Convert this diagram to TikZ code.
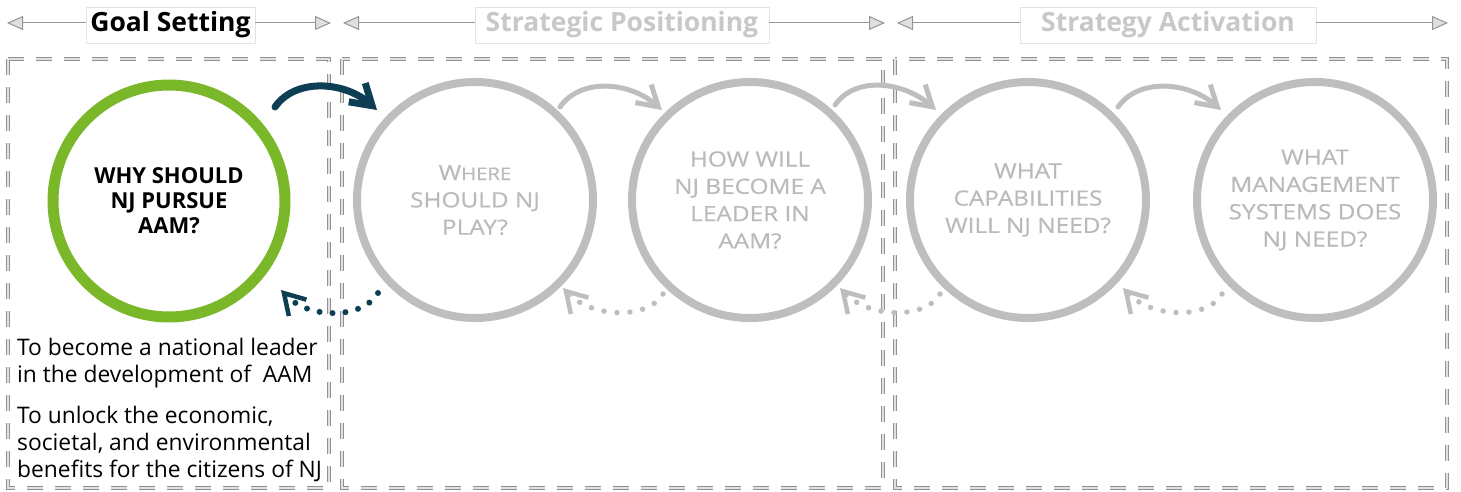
\documentclass[tikz,border=0pt]{standalone}
\usepackage{fontspec}
\setmainfont{Open Sans}
\newfontfamily\qfont[FakeStretch=1.16,FakeBold=0.6]{Open Sans}
\usetikzlibrary{arrows.meta,calc}
\definecolor{ngreen}{RGB}{122,184,42}
\definecolor{nteal}{RGB}{14,62,84}
\definecolor{ringc}{RGB}{190,190,190}
\definecolor{qtext}{RGB}{186,186,186}
\definecolor{htext}{RGB}{200,200,200}
\definecolor{dashc}{RGB}{145,145,145}
\definecolor{dashin}{RGB}{225,225,225}
\definecolor{hdrline}{RGB}{150,150,150}
\begin{document}
\begin{tikzpicture}[x=1pt,y=-1pt,
  stagebox/.style={draw=dashc, double=dashin, double distance=1.6pt, line width=0.9pt, dash pattern=on 16pt off 12pt},
  hdr/.style={draw=gray!22, fill=white, line width=0.6pt, minimum height=36pt, inner xsep=4pt, font=\fontsize{26.5}{30}\selectfont\bfseries},
  hdrarrow/.style={draw=hdrline, line width=1pt, -{Triangle[length=16pt,width=14pt,fill=gray!25]}},
  goalc/.style={circle, draw=ngreen, line width=11pt, minimum size=232pt, inner sep=0pt, align=center, font=\fontsize{22}{25}\selectfont\bfseries},
  qc/.style={circle, draw=ringc, line width=8pt, minimum size=236pt, inner sep=0pt, align=center, text=qtext, font=\qfont\fontsize{21}{27.3}\selectfont},
  fwd/.style={line width=5pt, draw=ringc, line cap=round, -{Straight Barb[length=20pt,width=24pt]}},
  fwddark/.style={line width=7pt, draw=nteal, line cap=round, -{Straight Barb[length=20pt,width=25pt]}},
  back/.style={line width=5.5pt, draw=ringc, line cap=round, dash pattern=on 0pt off 13pt, -{Straight Barb[length=20pt,width=24pt,line width=4.5pt]}},
  backdark/.style={line width=6pt, draw=nteal, line cap=round, dash pattern=on 0pt off 13pt, -{Straight Barb[length=20pt,width=24pt,line width=4.5pt]}},
  body/.style={anchor=base west, align=left, inner sep=0pt, font=\fontsize{22.8}{27}\selectfont}
]
\useasboundingbox (0,0) rectangle (1461,492);

% stage boxes
\draw[stagebox] (8,59) rectangle (329,488);
\draw[stagebox] (342,59) rectangle (883,488);
\draw[stagebox] (895,59) rectangle (1447,488);

% headers
\node[hdr, minimum width=169pt] (h1) at (170.5,25) {Goal Setting};
\node[hdr, minimum width=294pt, text=htext] (h2) at (622,25) {Strategic Positioning};
\node[hdr, minimum width=296pt, text=htext] (h3) at (1168,25) {Strategy Activation};
\coordinate (h1l) at (7,23); \coordinate (h1r) at (331,23);
\coordinate (h2l) at (343,23); \coordinate (h2r) at (885,23);
\coordinate (h3l) at (897,23); \coordinate (h3r) at (1448,23);
\draw[hdrarrow] (h1.west |- h1l) -- (h1l);
\draw[hdrarrow] (h1.east |- h1r) -- (h1r);
\draw[hdrarrow] (h2.west |- h2l) -- (h2l);
\draw[hdrarrow] (h2.east |- h2r) -- (h2r);
\draw[hdrarrow] (h3.west |- h3l) -- (h3l);
\draw[hdrarrow] (h3.east |- h3r) -- (h3r);

% circles
\node[goalc] (g) at (169,201) {WHY SHOULD\\NJ PURSUE\\AAM?};
\node[qc] (c1) at (475,200) {{W}{\fontsize{17.5}{27.3}\selectfont HERE}\\SHOULD NJ\\PLAY?};
\node[qc] (c2) at (750,200) {HOW WILL\\NJ BECOME A\\LEADER IN\\AAM?};
\node[qc] (c3) at (1028,200) {WHAT\\CAPABILITIES\\WILL NJ NEED?};
\node[qc] (c4) at (1315,200) {WHAT\\MANAGEMENT\\SYSTEMS DOES\\NJ NEED?};

% forward arrows
\coordinate (f0s) at ($(g)+(106,-94)$);  \coordinate (f0e) at ($(c1)+(-98,-90)$);
\coordinate (f1s) at ($(c1)+(85,-93)$);  \coordinate (f1e) at ($(c2)+(-88,-90)$);
\coordinate (f2s) at ($(c2)+(85,-95)$);  \coordinate (f2e) at ($(c3)+(-92,-90)$);
\coordinate (f3s) at ($(c3)+(90,-93)$);  \coordinate (f3e) at ($(c4)+(-94,-90)$);
\draw[fwddark] (f0s) .. controls ($(f0s)+(20,-29)$) and ($(f0e)+(-33,-29)$) .. (f0e);
\draw[fwd] (f1s) .. controls ($(f1s)+(20,-29)$) and ($(f1e)+(-33,-29)$) .. (f1e);
\draw[fwd] (f2s) .. controls ($(f2s)+(20,-29)$) and ($(f2e)+(-33,-29)$) .. (f2e);
\draw[fwd] (f3s) .. controls ($(f3s)+(20,-29)$) and ($(f3e)+(-33,-29)$) .. (f3e);

% backward dotted arrows
\coordinate (b0s) at ($(c1)+(-97,93)$);  \coordinate (b0e) at ($(g)+(112,89)$);
\coordinate (b1s) at ($(c2)+(-87,94)$);  \coordinate (b1e) at ($(c1)+(88,88)$);
\coordinate (b2s) at ($(c3)+(-88,94)$);  \coordinate (b2e) at ($(c2)+(90,88)$);
\coordinate (b3s) at ($(c4)+(-93,94)$);  \coordinate (b3e) at ($(c3)+(95,88)$);
\draw[backdark] (b0s) .. controls ($(b0s)+(-15,26)$) and ($(b0e)+(28,30)$) .. (b0e);
\draw[back] (b1s) .. controls ($(b1s)+(-15,26)$) and ($(b1e)+(28,30)$) .. (b1e);
\draw[back] (b2s) .. controls ($(b2s)+(-15,26)$) and ($(b2e)+(28,30)$) .. (b2e);
\draw[back] (b3s) .. controls ($(b3s)+(-15,26)$) and ($(b3e)+(28,30)$) .. (b3e);

% goal text
\node[body] (t1) at (17,382) {To become a national leader\\in the development of~ AAM};
\node[body] (t2) at (17,477) {To unlock the economic,\\societal, and environmental\\benefits for the citizens of NJ};
\end{tikzpicture}
\end{document}
